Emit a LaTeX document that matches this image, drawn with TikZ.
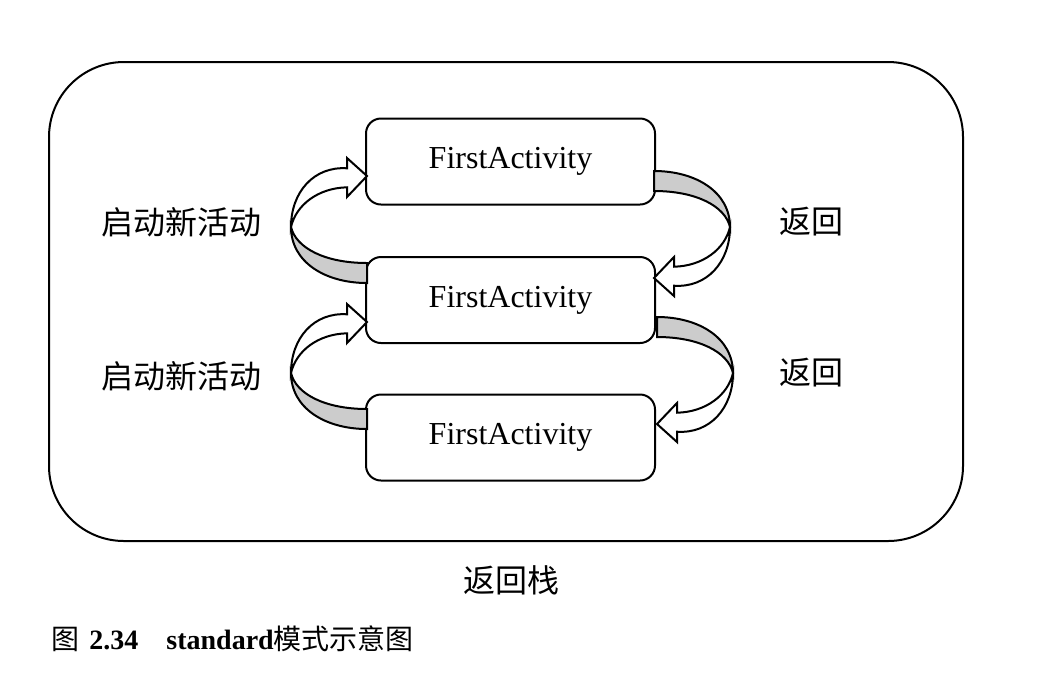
\documentclass[tikz,border=0pt]{standalone}
\usepackage{fontspec}
\setmainfont{Liberation Serif}
\newfontfamily\cjk{Noto Sans CJK SC}
\tikzset{
  actbox/.style={draw=black, line width=1pt, fill=white, rounded corners=7.5pt,
    minimum width=144.5pt, minimum height=43pt, inner sep=0pt, font=\fontsize{16pt}{19pt}\selectfont},
  stackbox/.style={draw=black, line width=1pt, rounded corners=37.5pt,
    minimum width=457pt, minimum height=239.5pt, inner sep=0pt},
  cjklabel/.style={font=\cjk\fontsize{16pt}{19pt}\selectfont, inner sep=0pt},
  ribbon/.style={draw=black, line width=1pt, line join=miter},
}
\newcommand\ribbonshape{%
  \filldraw[ribbon, fill=white]
    (291,227) .. controls (291,192) and (314,166) .. (347,168.3)
    -- (347,158) -- (367,176) -- (347,197) -- (347,187.3)
    .. controls (318,188) and (296,205) .. (291,227)
    -- cycle;
  \filldraw[ribbon, fill=gray!40]
    (291,227) .. controls (291,262) and (325,283) .. (367,283)
    -- (367,263)
    .. controls (325,263) and (296,248) .. (291,227)
    -- cycle;
}
\begin{document}
\begin{tikzpicture}[x=0.5pt, y=-0.5pt]
  \useasboundingbox[fill=white] (0,0) rectangle (1054,682);
  % back stack frame
  \node[stackbox] (stack) at (506,301.5) {};
  % activities
  \node[actbox] (b1) at (510.5,161.5) {FirstActivity};
  \node[actbox] (b2) at (510.5,300) {FirstActivity};
  \node[actbox] (b3) at (510.5,437.5) {FirstActivity};
  % ribbon arrows, first pair
  \begin{scope}
    \ribbonshape
  \end{scope}
  \begin{scope}[rotate around={180:(510.5,227)}]
    \ribbonshape
  \end{scope}
  % second pair
  \begin{scope}[shift={(0,146)}]
    \ribbonshape
  \end{scope}
  \begin{scope}[shift={(3,146)}]
    \begin{scope}[rotate around={180:(510.5,227)}]
      \ribbonshape
    \end{scope}
  \end{scope}
  % labels
  \node[cjklabel] (start1) at (181,222) {启动新活动};
  \node[cjklabel] (start2) at (181,376) {启动新活动};
  \node[cjklabel] (back1) at (811,222) {返回};
  \node[cjklabel] (back2) at (811,373) {返回};
  \node[cjklabel] (stacklabel) at (511,580) {返回栈};
  % caption
  \node[anchor=west, inner sep=0pt, font=\fontsize{14pt}{17pt}\selectfont] (caption) at (51,639)
    {{\cjk 图}\hspace{5pt}\textbf{2.34}\hspace{14pt}\textbf{standard}{\cjk 模式示意图}};
\end{tikzpicture}
\end{document}
